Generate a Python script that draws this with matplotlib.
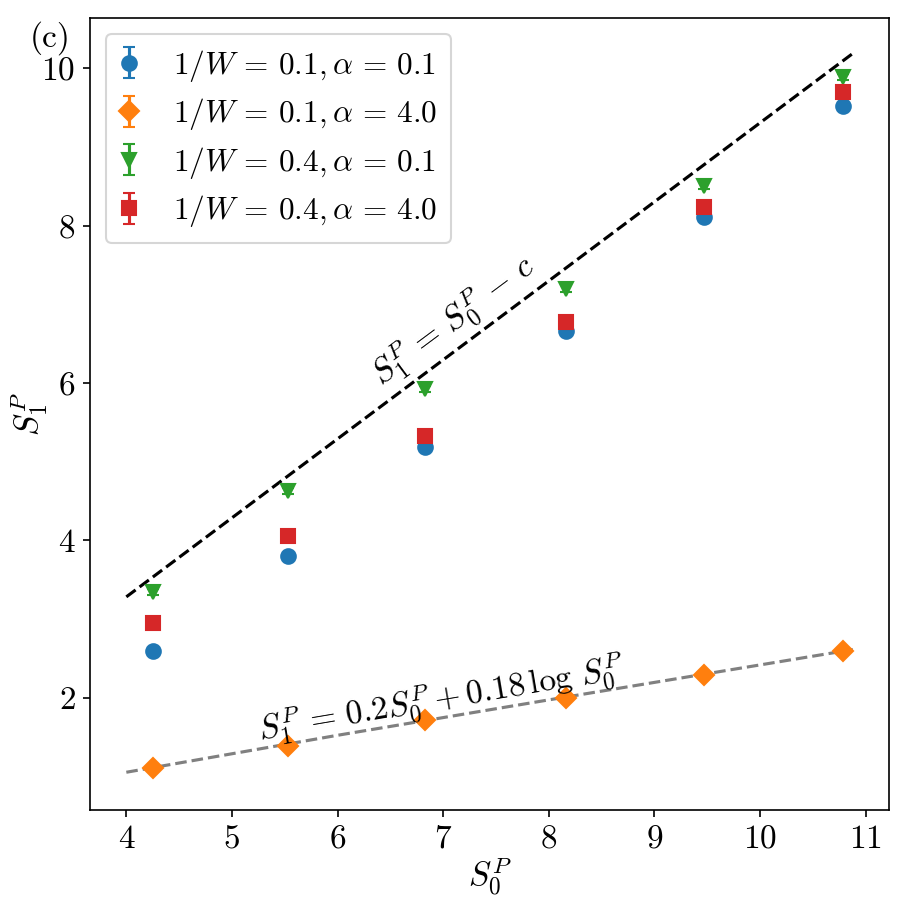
import matplotlib as mpl
mpl.use('Agg')
import matplotlib.pyplot as plt
import numpy as np

# Computer Modern look without LaTeX
plt.rcParams['font.family'] = 'serif'
plt.rcParams['font.serif'] = ['cmr10']
plt.rcParams['mathtext.fontset'] = 'cm'
plt.rcParams['axes.formatter.use_mathtext'] = True
plt.rcParams['font.size'] = 16

#------------------------------------------------------------------------------
# Data
#------------------------------------------------------------------------------
s0 = [4.25, 5.53, 6.83, 8.16, 9.47, 10.79]

s1_w01_a01 = [2.59, 3.80, 5.19, 6.66, 8.11, 9.52]
s1_w01_a40 = [1.11, 1.39, 1.71, 2.00, 2.29, 2.59]
s1_w04_a01 = [3.34, 4.63, 5.92, 7.20, 8.51, 9.89]
s1_w04_a40 = [2.95, 4.05, 5.32, 6.77, 8.24, 9.70]

# error bars are tiny in the picture
err_w01_a01 = [0.02, 0.02, 0.02, 0.02, 0.02, 0.02]
err_w01_a40 = [0.02, 0.02, 0.02, 0.02, 0.02, 0.02]
err_w04_a01 = [0.04, 0.04, 0.04, 0.04, 0.04, 0.04]
err_w04_a40 = [0.02, 0.02, 0.02, 0.02, 0.02, 0.02]

# guide lines
lin_x = [4.0, 10.88]
lin_y = [3.28, 10.19]
log_x = [4.0, 6.0, 8.0, 10.88]
log_y = [1.05, 1.52, 1.97, 2.61]

labels = [r'$1/W\,=\,0.1,\alpha\,=\,0.1$', r'$1/W\,=\,0.1,\alpha\,=\,4.0$',
          r'$1/W\,=\,0.4,\alpha\,=\,0.1$', r'$1/W\,=\,0.4,\alpha\,=\,4.0$']

#------------------------------------------------------------------------------
fig, ax = plt.subplots(1, 1, figsize=(6, 6), dpi=150)
fig.subplots_adjust(left=0.1, right=0.988, bottom=0.1, top=0.98)

ax.errorbar(s0, s1_w01_a01, yerr=err_w01_a01, fmt='o', ms=7, capsize=3,
            color='tab:blue', label=labels[0])
ax.errorbar(s0, s1_w01_a40, yerr=err_w01_a40, fmt='D', ms=7, capsize=3,
            color='tab:orange', label=labels[1])
ax.errorbar(s0, s1_w04_a01, yerr=err_w04_a01, fmt='v', ms=7, capsize=3,
            color='tab:green', label=labels[2])
ax.errorbar(s0, s1_w04_a40, yerr=err_w04_a40, fmt='s', ms=7, capsize=3,
            color='tab:red', label=labels[3])

ax.plot(lin_x, lin_y, '--', color='black', lw=1.5, zorder=1)
ax.plot(log_x, log_y, '--', color='grey', lw=1.5, zorder=1)

ax.text(7.1, 6.8, r'$S_1^P\,=\,S_0^P\,-\,c$', rotation=36.6, ha='center',
        va='center', rotation_mode='anchor', fontsize=16)
ax.text(6.98, 1.97, r'$S_1^P\,=\,0.2S_0^P+0.18\,\log\,S_0^P$', rotation=9.6,
        ha='center', va='center', rotation_mode='anchor', fontsize=16)

ax.text(-0.05, 0.975, '(c)', transform=ax.transAxes, ha='center',
        va='center', fontsize=16)

ax.set_xlim(3.656, 11.224)
ax.set_ylim(0.57, 10.64)
ax.set_xticks(range(4, 12))
ax.set_yticks([2, 4, 6, 8, 10])
ax.set_xlabel(r'$S_0^P$', labelpad=1)
ax.set_ylabel(r'$S_1^P$', labelpad=-4)

ax.legend(loc='upper left', fontsize=15, handlelength=0.6,
          handletextpad=1.1, borderpad=0.45, labelspacing=0.4)

fig.savefig('out.png', dpi=150)
